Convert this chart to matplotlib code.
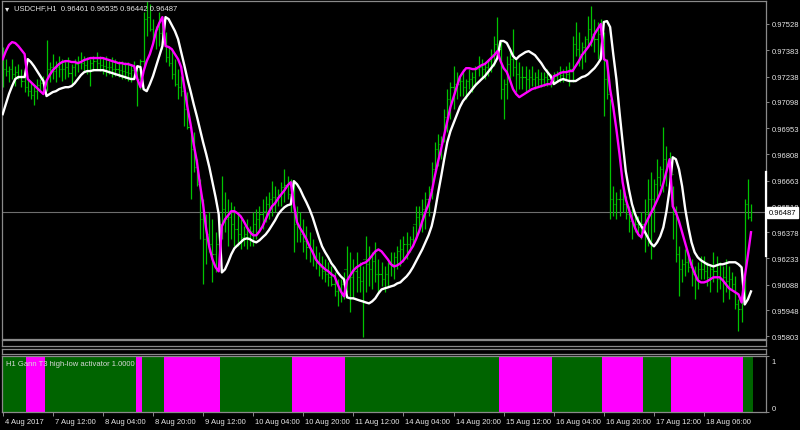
import numpy as np
import matplotlib
matplotlib.use("Agg")
import matplotlib.pyplot as plt
from matplotlib.transforms import ScaledTranslation

# ---------------- data ----------------
symbol_title = "USDCHF,H1  0.96461 0.96535 0.96442 0.96487"
indicator_title = "H1 Gann T3 high-low activator 1.0000"
last_price = 0.96487
range_marker = (0.96245, 0.96709)

high = [0.97401,0.97334,0.97295,0.97334,0.97295,0.97307,0.97279,0.97262,0.97224,0.97207,0.97185,0.97224,0.97224,0.97240,0.97439,0.97318,
        0.97362,0.97323,0.97351,0.97334,0.97323,0.97345,0.97307,0.97334,0.97351,0.97373,0.97351,0.97345,0.97334,0.97351,0.97373,0.97351,
        0.97345,0.97351,0.97334,0.97345,0.97334,0.97323,0.97323,0.97318,0.97318,0.97307,0.97323,0.97295,0.97334,0.97594,0.97655,0.97638,
        0.97555,0.97517,0.97594,0.97572,0.97484,0.97406,0.97389,0.97334,0.97279,0.97240,0.97185,0.97152,0.96964,0.96931,0.96781,0.96671,
        0.96560,0.96477,0.96488,0.96449,0.96378,0.96466,0.96687,0.96599,0.96560,0.96543,0.96521,0.96488,0.96449,0.96411,0.96449,0.96411,
        0.96488,0.96505,0.96521,0.96560,0.96577,0.96599,0.96660,0.96632,0.96615,0.96654,0.96726,0.96687,0.96671,0.96654,0.96521,0.96488,
        0.96449,0.96411,0.96378,0.96339,0.96300,0.96267,0.96245,0.96228,0.96212,0.96189,0.96156,0.96118,0.96118,0.96156,0.96300,0.96267,
        0.96228,0.96267,0.96212,0.96189,0.96355,0.96300,0.96267,0.96322,0.96228,0.96212,0.96189,0.96212,0.96267,0.96267,0.96300,0.96339,
        0.96355,0.96378,0.96355,0.96411,0.96521,0.96521,0.96560,0.96599,0.96632,0.96765,0.96875,0.96919,0.96908,0.97058,0.97168,0.97207,
        0.97295,0.97262,0.97240,0.97279,0.97224,0.97279,0.97262,0.97295,0.97351,0.97334,0.97318,0.97334,0.97389,0.97461,0.97566,0.97428,
        0.97224,0.97351,0.97389,0.97500,0.97334,0.97318,0.97295,0.97295,0.97279,0.97295,0.97262,0.97279,0.97262,0.97262,0.97279,0.97251,
        0.97262,0.97268,0.97295,0.97279,0.97295,0.97318,0.97461,0.97539,0.97484,0.97428,0.97461,0.97572,0.97627,0.97555,0.97539,0.97555,
        0.97484,0.97334,0.97113,0.96632,0.96599,0.96615,0.96632,0.96577,0.96521,0.96505,0.96488,0.96466,0.96488,0.96560,0.96671,0.96709,
        0.96671,0.96781,0.96742,0.96958,0.96853,0.96820,0.96632,0.96521,0.96300,0.96228,0.96283,0.96267,0.96228,0.96189,0.96212,0.96245,
        0.96245,0.96212,0.96189,0.96267,0.96245,0.96212,0.96189,0.96228,0.96189,0.96156,0.96134,0.96007,0.96079,0.96560,0.96671,0.96535]

low = [0.97179,0.97240,0.97207,0.97224,0.97185,0.97224,0.97179,0.97152,0.97130,0.97113,0.97080,0.97113,0.97152,0.97157,0.97157,0.97207,
       0.97224,0.97207,0.97235,0.97213,0.97224,0.97235,0.97196,0.97240,0.97262,0.97279,0.97268,0.97251,0.97185,0.97268,0.97279,0.97268,
       0.97251,0.97240,0.97251,0.97235,0.97240,0.97235,0.97224,0.97224,0.97213,0.97207,0.97224,0.97074,0.97168,0.97295,0.97461,0.97489,
       0.97428,0.97389,0.97406,0.97389,0.97318,0.97295,0.97224,0.97185,0.97113,0.97130,0.96964,0.96947,0.96560,0.96709,0.96632,0.96339,
       0.96090,0.96201,0.96267,0.96101,0.96156,0.96189,0.96339,0.96378,0.96300,0.96339,0.96300,0.96300,0.96283,0.96300,0.96283,0.96300,
       0.96300,0.96339,0.96378,0.96394,0.96433,0.96449,0.96466,0.96488,0.96521,0.96521,0.96543,0.96560,0.96488,0.96267,0.96322,0.96322,
       0.96267,0.96228,0.96212,0.96189,0.96173,0.96134,0.96118,0.96101,0.96079,0.96079,0.96024,0.95968,0.95990,0.96007,0.96046,0.95935,
       0.96007,0.96046,0.96046,0.95802,0.96046,0.96079,0.96062,0.96101,0.96046,0.96079,0.96046,0.96079,0.96134,0.96118,0.96173,0.96189,
       0.96212,0.96228,0.96267,0.96300,0.96339,0.96394,0.96378,0.96394,0.96466,0.96560,0.96709,0.96742,0.96781,0.96875,0.96931,0.97002,
       0.97058,0.97113,0.97130,0.97130,0.97113,0.97168,0.97152,0.97185,0.97240,0.97224,0.97224,0.97240,0.97262,0.97295,0.97351,0.97113,
       0.97002,0.97113,0.97207,0.97240,0.97152,0.97168,0.97168,0.97152,0.97168,0.97185,0.97168,0.97185,0.97179,0.97185,0.97185,0.97179,
       0.97196,0.97207,0.97207,0.97207,0.97224,0.97185,0.97207,0.97351,0.97295,0.97279,0.97318,0.97406,0.97406,0.97373,0.97334,0.97351,
       0.97019,0.97113,0.96449,0.96466,0.96449,0.96466,0.96488,0.96449,0.96378,0.96339,0.96378,0.96355,0.96339,0.96267,0.96300,0.96228,
       0.96378,0.96560,0.96632,0.96599,0.96632,0.96671,0.96339,0.96212,0.96024,0.96101,0.96134,0.96156,0.96079,0.96007,0.96062,0.96118,
       0.96118,0.96079,0.96046,0.96101,0.96046,0.96062,0.95990,0.96046,0.96007,0.96062,0.95952,0.95830,0.95880,0.96007,0.96449,0.96442]

close = [0.97279,0.97268,0.97279,0.97251,0.97262,0.97235,0.97213,0.97179,0.97157,0.97135,0.97157,0.97190,0.97201,0.97196,0.97279,0.97290,
         0.97268,0.97290,0.97279,0.97279,0.97290,0.97257,0.97290,0.97307,0.97323,0.97312,0.97301,0.97268,0.97312,0.97323,0.97312,0.97301,
         0.97295,0.97290,0.97290,0.97279,0.97279,0.97273,0.97268,0.97262,0.97257,0.97273,0.97251,0.97224,0.97323,0.97555,0.97566,0.97500,
         0.97456,0.97500,0.97478,0.97417,0.97345,0.97312,0.97251,0.97196,0.97179,0.97157,0.97058,0.96958,0.96836,0.96737,0.96643,0.96449,
         0.96339,0.96366,0.96311,0.96256,0.96311,0.96422,0.96505,0.96449,0.96460,0.96422,0.96394,0.96366,0.96350,0.96366,0.96350,0.96383,
         0.96422,0.96449,0.96477,0.96494,0.96532,0.96560,0.96571,0.96571,0.96588,0.96626,0.96637,0.96588,0.96560,0.96422,0.96405,0.96366,
         0.96328,0.96295,0.96272,0.96239,0.96206,0.96184,0.96162,0.96145,0.96129,0.96090,0.96051,0.96062,0.96090,0.96173,0.96118,0.96129,
         0.96162,0.96129,0.96107,0.96228,0.96201,0.96173,0.96217,0.96145,0.96145,0.96118,0.96145,0.96201,0.96201,0.96239,0.96272,0.96283,
         0.96311,0.96311,0.96339,0.96422,0.96460,0.96477,0.96505,0.96560,0.96615,0.96726,0.96836,0.96864,0.96892,0.97013,0.97113,0.97179,
         0.97196,0.97196,0.97213,0.97179,0.97213,0.97224,0.97235,0.97279,0.97290,0.97279,0.97290,0.97323,0.97362,0.97417,0.97389,0.97168,
         0.97196,0.97307,0.97334,0.97290,0.97251,0.97235,0.97235,0.97224,0.97235,0.97224,0.97235,0.97224,0.97224,0.97235,0.97224,0.97235,
         0.97240,0.97251,0.97246,0.97262,0.97251,0.97279,0.97417,0.97389,0.97362,0.97401,0.97445,0.97500,0.97472,0.97445,0.97472,0.97417,
         0.97224,0.97141,0.96560,0.96532,0.96560,0.96560,0.96532,0.96477,0.96438,0.96422,0.96422,0.96405,0.96422,0.96477,0.96560,0.96560,
         0.96643,0.96682,0.96726,0.96781,0.96754,0.96698,0.96477,0.96256,0.96173,0.96201,0.96212,0.96184,0.96145,0.96118,0.96173,0.96173,
         0.96162,0.96129,0.96173,0.96162,0.96118,0.96118,0.96129,0.96107,0.96118,0.96090,0.95979,0.95952,0.96035,0.96532,0.96461,0.96487]
first_open = 0.97300

magenta_line = [0.97334,0.97378,0.97412,0.97428,0.97423,0.97406,0.97384,0.97362,0.97224,0.97207,0.97190,0.97174,0.97157,0.97141,0.97213,0.97246,
                0.97273,0.97290,0.97307,0.97318,0.97323,0.97323,0.97318,0.97318,0.97312,0.97318,0.97329,0.97334,0.97340,0.97340,0.97340,0.97340,
                0.97340,0.97334,0.97329,0.97323,0.97318,0.97312,0.97312,0.97307,0.97307,0.97301,0.97295,0.97224,0.97179,0.97268,0.97323,0.97362,
                0.97417,0.97489,0.97533,0.97566,0.97406,0.97401,0.97389,0.97362,0.97334,0.97290,0.97179,0.97069,0.96975,0.96864,0.96770,0.96643,
                0.96532,0.96394,0.96295,0.96228,0.96184,0.96162,0.96411,0.96449,0.96472,0.96494,0.96494,0.96483,0.96466,0.96438,0.96405,0.96378,
                0.96361,0.96361,0.96383,0.96411,0.96449,0.96488,0.96521,0.96538,0.96566,0.96588,0.96610,0.96637,0.96654,0.96532,0.96433,0.96400,
                0.96372,0.96339,0.96300,0.96267,0.96228,0.96206,0.96189,0.96173,0.96162,0.96145,0.96134,0.96090,0.96051,0.96024,0.96112,0.96140,
                0.96167,0.96184,0.96195,0.96206,0.96212,0.96228,0.96250,0.96272,0.96283,0.96272,0.96250,0.96228,0.96201,0.96189,0.96195,0.96206,
                0.96223,0.96245,0.96272,0.96300,0.96339,0.96383,0.96438,0.96488,0.96532,0.96599,0.96687,0.96765,0.96836,0.96914,0.96991,0.97069,
                0.97124,0.97179,0.97235,0.97262,0.97284,0.97284,0.97279,0.97279,0.97290,0.97301,0.97307,0.97323,0.97340,0.97356,0.97378,0.97323,
                0.97284,0.97262,0.97218,0.97168,0.97141,0.97124,0.97135,0.97146,0.97157,0.97168,0.97174,0.97179,0.97185,0.97190,0.97196,0.97196,
                0.97240,0.97246,0.97257,0.97262,0.97262,0.97268,0.97268,0.97295,0.97323,0.97356,0.97378,0.97401,0.97428,0.97472,0.97500,0.97528,
                0.97334,0.97323,0.97168,0.97069,0.96947,0.96809,0.96654,0.96560,0.96505,0.96449,0.96400,0.96366,0.96350,0.96411,0.96449,0.96483,
                0.96516,0.96554,0.96593,0.96648,0.96715,0.96781,0.96521,0.96488,0.96438,0.96378,0.96317,0.96256,0.96195,0.96151,0.96112,0.96101,
                0.96101,0.96107,0.96118,0.96129,0.96129,0.96129,0.96112,0.96090,0.96068,0.96057,0.96046,0.96035,0.95990,0.96129,0.96250,0.96378]

white_line = [0.97030,0.97085,0.97141,0.97185,0.97224,0.97235,0.97235,0.97235,0.97334,0.97318,0.97295,0.97268,0.97240,0.97213,0.97130,0.97141,
              0.97152,0.97157,0.97168,0.97174,0.97179,0.97179,0.97185,0.97201,0.97224,0.97246,0.97262,0.97268,0.97268,0.97273,0.97273,0.97273,
              0.97273,0.97268,0.97262,0.97257,0.97251,0.97246,0.97240,0.97235,0.97229,0.97224,0.97224,0.97295,0.97290,0.97168,0.97157,0.97196,
              0.97240,0.97295,0.97351,0.97406,0.97566,0.97555,0.97522,0.97489,0.97445,0.97373,0.97301,0.97224,0.97157,0.97085,0.97019,0.96947,
              0.96875,0.96809,0.96737,0.96654,0.96571,0.96477,0.96156,0.96173,0.96212,0.96256,0.96289,0.96306,0.96322,0.96339,0.96344,0.96339,
              0.96328,0.96322,0.96333,0.96350,0.96366,0.96389,0.96416,0.96444,0.96477,0.96499,0.96516,0.96527,0.96532,0.96660,0.96643,0.96615,
              0.96577,0.96543,0.96505,0.96460,0.96405,0.96350,0.96300,0.96267,0.96239,0.96206,0.96184,0.96156,0.96134,0.96118,0.96018,0.96013,
              0.96013,0.96007,0.96001,0.95996,0.95990,0.95985,0.95996,0.96013,0.96040,0.96062,0.96068,0.96073,0.96079,0.96084,0.96095,0.96101,
              0.96118,0.96134,0.96156,0.96184,0.96217,0.96250,0.96283,0.96322,0.96361,0.96411,0.96488,0.96588,0.96682,0.96781,0.96875,0.96936,
              0.96980,0.97025,0.97069,0.97102,0.97124,0.97146,0.97168,0.97190,0.97207,0.97224,0.97240,0.97262,0.97284,0.97307,0.97340,0.97434,
              0.97434,0.97423,0.97389,0.97351,0.97334,0.97351,0.97362,0.97373,0.97378,0.97367,0.97356,0.97334,0.97312,0.97284,0.97262,0.97240,
              0.97196,0.97207,0.97218,0.97224,0.97218,0.97213,0.97213,0.97213,0.97224,0.97235,0.97240,0.97251,0.97268,0.97284,0.97307,0.97334,
              0.97539,0.97544,0.97511,0.97362,0.97224,0.97041,0.96875,0.96715,0.96615,0.96532,0.96477,0.96438,0.96411,0.96383,0.96350,0.96317,
              0.96300,0.96322,0.96355,0.96405,0.96494,0.96615,0.96792,0.96781,0.96726,0.96632,0.96505,0.96405,0.96322,0.96267,0.96239,0.96223,
              0.96212,0.96201,0.96195,0.96189,0.96195,0.96201,0.96201,0.96206,0.96212,0.96212,0.96212,0.96201,0.96184,0.95979,0.96007,0.96051]

# activator state runs: (1 = up / green, 0 = down / magenta, number of bars)
trend_runs = [(1, 8), (0, 6), (1, 29), (0, 2), (1, 7), (0, 18), (1, 23), (0, 17),
              (1, 49), (0, 17), (1, 16), (0, 13), (1, 9), (0, 23), (1, 3)]

price_ticks = [0.97528, 0.97383, 0.97238, 0.97098, 0.96953, 0.96808, 0.96663,
               0.96518, 0.96378, 0.96233, 0.96088, 0.95948, 0.95803]
time_labels = ["4 Aug 2017", "7 Aug 12:00", "8 Aug 04:00", "8 Aug 20:00", "9 Aug 12:00",
               "10 Aug 04:00", "10 Aug 20:00", "11 Aug 12:00", "14 Aug 04:00", "14 Aug 20:00",
               "15 Aug 12:00", "16 Aug 04:00", "16 Aug 20:00", "17 Aug 12:00", "18 Aug 06:00"]
time_label_bars = [0, 16, 32, 48, 64, 80, 96, 112, 128, 144, 160, 176, 192, 208, 224]

# ---------------- drawing ----------------
W, H = 800, 431
BG = "black"
GRID = "#8a8a8a"
TXT = "#e6e6e6"
BAR = "#00c400"
FONT = ["Liberation Sans", "DejaVu Sans"]
FS = 5.5
plt.rcParams["font.family"] = FONT

fig = plt.figure(figsize=(W / 100, H / 100), dpi=100, facecolor=BG)


def frame(x0, y0, x1, y1):
    return [x0 / W, 1 - y1 / H, (x1 - x0) / W, (y1 - y0) / H]


n = len(high)
idx = np.arange(n)
px_per_bar = 3.131
xl = (-(2.7 - 2) / px_per_bar, (766 - 2.7) / px_per_bar)

ax = fig.add_axes(frame(2, 2, 766, 339.5), facecolor=BG)
p1 = fig.add_axes(frame(2, 341, 766, 347), facecolor=BG)
p2 = fig.add_axes(frame(2, 349.5, 766, 355), facecolor=BG)
ai = fig.add_axes(frame(2, 356.5, 766, 413), facecolor=BG)

for a in (ax, p1, p2, ai):
    a.set_xlim(*xl)
    for s in a.spines.values():
        s.set_color(GRID)
        s.set_linewidth(0.9)
    a.tick_params(colors=GRID, labelcolor=TXT, labelsize=FS)

for a in (p1, p2):
    a.set_xticks([])
    a.set_yticks([])

# price bars
opens = [first_open] + close[:-1]
ax.vlines(idx, low, high, color=BAR, lw=0.9)
ax.hlines(opens, idx - 0.35, idx, color=BAR, lw=0.8)
ax.hlines(close, idx, idx + 0.35, color=BAR, lw=0.8)

# last price line
ax.axhline(last_price, color="#6e6e6e", lw=0.8, zorder=1)

# T3 lines
ax.plot(idx, white_line, color="white", lw=1.7, solid_joinstyle="round", zorder=3)
ax.plot(idx, magenta_line, color="#ff00ff", lw=1.7, solid_joinstyle="round", zorder=4)

ax.set_ylim(0.95791, 0.97655)
ax.yaxis.tick_right()
ax.set_yticks(price_ticks)
ax.set_yticklabels([f"{v:.5f}" for v in price_ticks])
ax.tick_params(axis="y", length=2.5, width=0.7, pad=1.5)
ax.set_xticks([])

# current price box on the scale
ax.annotate(f"{last_price:.5f}", xy=(1.0, last_price), xycoords=("axes fraction", "data"),
            xytext=(2.2, 0), textcoords="offset points", ha="left", va="center",
            fontsize=FS, color="black", zorder=10, annotation_clip=False,
            bbox=dict(boxstyle="square,pad=0.25", fc="white", ec="white"))
# range marker on the scale
ax.plot([1.0, 1.0], range_marker, transform=ax.get_yaxis_transform(), color="white",
        lw=1.6, clip_on=False, zorder=9)

# title
fig.text(7 / W, 1 - 8.5 / H, "▾", family="DejaVu Sans", fontsize=6, color=TXT, ha="center", va="center")
fig.text(14 / W, 1 - 8.5 / H, symbol_title, fontsize=FS, color=TXT, ha="left", va="center")

# indicator histogram
states = []
for st, cnt in trend_runs:
    states += [st] * cnt
colors = ["#006400" if s == 1 else "#ff00ff" for s in states]
ai.bar(idx, [1.0] * n, width=1.04, bottom=0, color=colors, linewidth=0, zorder=1)
ai.set_ylim(0, 1)
ai.yaxis.tick_right()
ai.set_yticks([0, 1])
ai.set_yticklabels(["0", "1"])
ai.tick_params(axis="y", length=2.5, width=0.7, pad=1.5)
labs = ai.get_yticklabels()
labs[0].set_transform(labs[0].get_transform() + ScaledTranslation(0, 4 / 100, fig.dpi_scale_trans))
labs[1].set_transform(labs[1].get_transform() + ScaledTranslation(0, -5 / 100, fig.dpi_scale_trans))
ai.text(4 / 764, 1 - 8 / 56.5, indicator_title, transform=ai.transAxes, fontsize=FS,
        color="#d8d8d8", ha="left", va="center", zorder=5)

ai.set_xticks(time_label_bars)
ai.set_xticklabels(time_labels, ha="left")
ai.tick_params(axis="x", length=3, width=0.7, pad=1.5)
for lab in ai.get_xticklabels():
    lab.set_transform(lab.get_transform() + ScaledTranslation(2 / 100, 0, fig.dpi_scale_trans))

fig.savefig("out.png", dpi=100, facecolor=BG)
